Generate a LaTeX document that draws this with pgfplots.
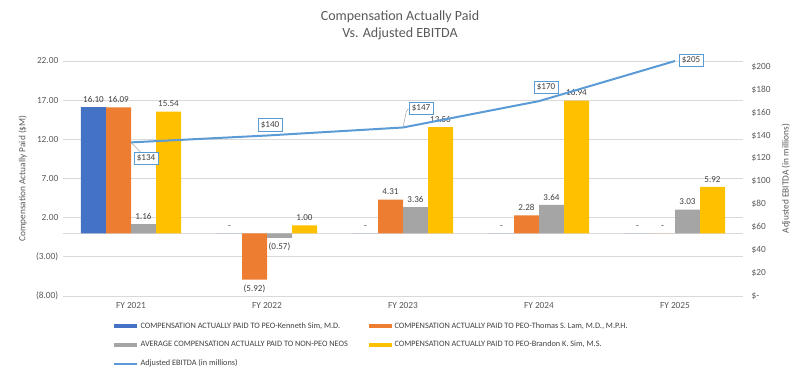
\documentclass[border=0pt]{standalone}
\usepackage{pgfplots}
\pgfplotsset{compat=1.18}
\usepackage{fontspec}
\setmainfont{Carlito}
\definecolor{cBlue}{HTML}{4472C4}
\definecolor{cOrange}{HTML}{ED7D31}
\definecolor{cGray}{HTML}{A5A5A5}
\definecolor{cYellow}{HTML}{FFC000}
\definecolor{cLine}{HTML}{5B9BD5}
\definecolor{cGrid}{HTML}{D9D9D9}
\definecolor{cText}{HTML}{595959}
\definecolor{cLab}{HTML}{404040}
\tikzset{labbox/.style={draw=cLine, fill=white, font=\fontsize{6.8}{8}\selectfont, text=cLab, inner sep=2pt, line width=0.5pt}}
\begin{document}
\begin{tikzpicture}[x=0.75pt,y=0.75pt]
\path[use as bounding box] (0,0) rectangle (800,374);
\node[text=cText,font=\fontsize{10.5}{12}\selectfont] at (400,357) {Compensation Actually Paid};
\node[text=cText,font=\fontsize{10.5}{12}\selectfont] at (400,340) {Vs. Adjusted EBITDA};
\begin{axis}[
  at={(47.25pt,58.5pt)}, anchor=south west,
  scale only axis, width=510pt, height=176.25pt,
  xmin=-0.5, xmax=4.5, ymin=-8, ymax=22,
  xtick={0,1,2,3,4},
  xticklabels={FY 2021,FY 2022,FY 2023,FY 2024,FY 2025},
  xticklabel style={yshift=-1.5pt},
  ytick={-8,-3,2,7,12,17,22},
  yticklabels={(8.00),(3.00),2.00,7.00,12.00,17.00,22.00},
  extra y ticks={0}, extra y tick labels={},
  extra y tick style={grid=major, major grid style={cGrid, line width=0.8pt}},
  ymajorgrids, major grid style={cGrid, line width=0.6pt},
  axis line style={draw=none},
  major tick length=0pt,
  tick label style={font=\fontsize{7}{8}\selectfont, text=cText},
  /pgf/number format/assume math mode=true,
  ylabel={Compensation Actually Paid (\$M)},
  ylabel style={font=\fontsize{7}{8}\selectfont, text=cText},
  ybar=0pt, bar width=18.75pt,
  nodes near coords,
  point meta=explicit symbolic,
  visualization depends on={y \as \rawy},
  nodes near coords style={font=\fontsize{6.8}{8}\selectfont, text=cLab,
    /utils/exec={\pgfmathparse{\rawy<0 ? 1 : 0}\ifnum\pgfmathresult=1 \def\myanc{north}\else\def\myanc{south}\fi},
    anchor=\myanc},
  legend columns=2,
  legend cell align=left,
  legend style={at={(0.0735,-0.10)}, anchor=north west, draw=none, fill=none,
    font=\fontsize{6.2}{7}\selectfont, text=cLab, inner sep=0pt,
    /tikz/every even column/.append style={column sep=14pt},
    row sep=4.2pt},
  legend image code/.code={\fill[#1] (0pt,-1.6pt) rectangle (17pt,1.6pt);},
]
\addplot[fill=cBlue, draw=none] coordinates {(0,16.10) [16.10] (1,0) [-] (2,0) [-] (3,0) [-] (4,0) [-]};
\addplot[fill=cOrange, draw=none] coordinates {(0,16.09) [16.09] (1,-5.92) [(5.92)] (2,4.31) [4.31] (3,2.28) [2.28] (4,0) [-]};
\addplot[fill=cGray, draw=none] coordinates {(0,1.16) [1.16] (1,-0.57) [(0.57)] (2,3.36) [3.36] (3,3.64) [3.64] (4,3.03) [3.03]};
\addplot[fill=cYellow, draw=none] coordinates {(0,15.54) [15.54] (1,1.00) [1.00] (2,13.56) [13.56] (3,16.94) [16.94] (4,5.92) [5.92]};
\addlegendimage{legend image code/.code={\draw[cLine, line width=1.5pt] (0pt,0pt) -- (17pt,0pt);}}
\legend{{COMPENSATION ACTUALLY PAID TO PEO-Kenneth Sim, M.D.},
        {COMPENSATION ACTUALLY PAID TO PEO-Thomas S. Lam, M.D., M.P.H.},
        {AVERAGE COMPENSATION ACTUALLY PAID TO NON-PEO NEOS},
        {COMPENSATION ACTUALLY PAID TO PEO-Brandon K. Sim, M.S.},
        {Adjusted EBITDA (in millions)}}
\end{axis}
\begin{axis}[
  at={(47.25pt,58.5pt)}, anchor=south west,
  scale only axis, width=510pt, height=176.25pt,
  xmin=-0.5, xmax=4.5, ymin=0, ymax=205,
  clip=false,
  axis y line*=right, axis x line=none,
  axis line style={draw=none},
  major tick length=0pt,
  ytick={0,20,40,60,80,100,120,140,160,180,200},
  yticklabels={\$-,\$20,\$40,\$60,\$80,\$100,\$120,\$140,\$160,\$180,\$200},
  tick label style={font=\fontsize{7}{8}\selectfont, text=cText},
  yticklabel style={xshift=3pt},
  /pgf/number format/assume math mode=true,
  ylabel={Adjusted EBITDA (in millions)},
  ylabel style={font=\fontsize{7}{8}\selectfont, text=cText, yshift=-1.5pt},
]
\addplot[cLine, line width=1.5pt, mark=none] coordinates {(0,134) (1,140) (2,147) (3,170) (4,205)};
\draw[gray!70, line width=0.4pt] (axis cs:0,134) -- ([xshift=7pt,yshift=-7pt]axis cs:0,134);
\node[labbox] at ([xshift=11.25pt,yshift=-12pt]axis cs:0,134) {\$134};
\node[labbox] at ([xshift=2.25pt,yshift=8pt]axis cs:1,140) {\$140};
\draw[gray!70, line width=0.4pt] (axis cs:2,147) -- ([xshift=2.5pt,yshift=12pt]axis cs:2,147) -- ([xshift=4pt,yshift=14pt]axis cs:2,147);
\node[labbox] at ([xshift=13.5pt,yshift=14.6pt]axis cs:2,147) {\$147};
\node[labbox] at ([xshift=5.25pt,yshift=10.5pt]axis cs:3,170) {\$170};
\node[labbox] at ([xshift=12pt,yshift=0.75pt]axis cs:4,205) {\$205};
\end{axis}
\end{tikzpicture}
\end{document}
